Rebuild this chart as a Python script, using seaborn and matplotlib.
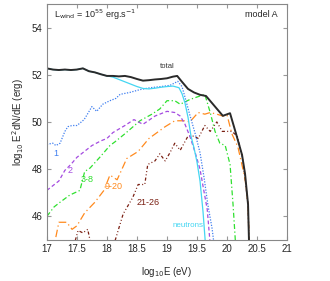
import numpy as np
import pandas as pd
import seaborn as sns
import matplotlib.pyplot as plt

# log10 E (eV) and log10 E^2 dN/dE (erg)
total_x = [17.0, 17.1, 17.2, 17.3, 17.4, 17.5, 17.6, 17.7, 17.8, 17.9, 18.0, 18.1, 18.2, 18.3, 18.4,
           18.5, 18.6, 18.7, 18.8, 18.9, 19.0, 19.1, 19.17, 19.25, 19.35, 19.45, 19.55, 19.65, 19.75,
           19.85, 19.93, 20.05, 20.15, 20.25, 20.3, 20.35, 20.37]
total_y = [52.27, 52.22, 52.2, 52.22, 52.2, 52.22, 52.27, 52.15, 52.1, 52.02, 51.95, 51.95, 51.93,
           51.95, 51.9, 51.82, 51.75, 51.77, 51.8, 51.82, 51.85, 51.92, 51.95, 51.7, 51.4, 51.25,
           51.15, 51.1, 50.8, 50.5, 50.26, 50.37, 49.5, 48.6, 47.8, 46.5, 44.5]

neutrons_x = [17.0, 17.1, 17.2, 17.3, 17.4, 17.5, 17.6, 17.7, 17.8, 17.9, 18.0, 18.1, 18.2, 18.3, 18.4,
              18.5, 18.6, 18.7, 18.8, 18.9, 19.0, 19.1, 19.2, 19.25, 19.3, 19.35, 19.4, 19.45, 19.5,
              19.55, 19.6, 19.65]
neutrons_y = [52.27, 52.22, 52.2, 52.22, 52.2, 52.22, 52.27, 52.15, 52.1, 52.02, 51.95, 51.9, 51.8,
              51.7, 51.6, 51.5, 51.42, 51.4, 51.43, 51.47, 51.5, 51.52, 51.45, 51.2, 50.8, 50.2, 49.4,
              48.9, 48.3, 47.5, 46.2, 44.5]

z1_x = [17.0, 17.1, 17.15, 17.22, 17.3, 17.35, 17.42, 17.5, 17.55, 17.62, 17.68, 17.75, 17.83, 17.93,
        18.05, 18.15, 18.22, 18.38, 18.55, 18.72, 18.9, 19.05, 19.18, 19.25, 19.3, 19.38, 19.47, 19.55,
        19.62, 19.68, 19.75, 19.8]
z1_y = [49.05, 49.1, 49.0, 49.1, 49.6, 49.8, 49.85, 49.85, 49.95, 50.1, 50.35, 50.65, 50.45, 50.75,
        50.9, 51.0, 51.17, 51.25, 51.37, 51.45, 51.5, 51.55, 51.72, 51.5, 51.05, 50.3, 49.5, 48.7,
        47.6, 46.5, 45.5, 44.5]

z2_x = [17.0, 17.1, 17.2, 17.3, 17.4, 17.5, 17.6, 17.75, 17.9, 18.0, 18.1, 18.2, 18.3, 18.45, 18.6,
        18.8, 19.0, 19.13, 19.22, 19.3, 19.38, 19.47, 19.55, 19.62, 19.67, 19.73]
z2_y = [47.1, 47.3, 47.5, 47.95, 48.2, 48.5, 48.7, 49.0, 49.2, 49.3, 49.55, 49.7, 49.85, 50.1, 49.9,
        50.25, 50.45, 50.4, 50.25, 49.9, 49.4, 48.7, 48.0, 47.0, 46.3, 44.5]

z3_x = [17.0, 17.12, 17.22, 17.38, 17.55, 17.63, 17.72, 17.88, 18.05, 18.13, 18.3, 18.55, 18.75, 18.88,
        19.0, 19.13, 19.22, 19.38, 19.55, 19.63, 19.72, 19.8, 19.88, 19.97, 20.05, 20.1, 20.15]
z3_y = [46.0, 46.4, 46.6, 46.9, 47.1, 47.9, 48.05, 48.5, 49.0, 49.15, 49.5, 50.05, 50.33, 50.55,
        50.9, 50.9, 50.75, 50.95, 51.1, 51.17, 50.4, 49.6, 49.1, 49.0, 48.2, 46.5, 44.5]

z9_x = [17.1, 17.2, 17.33, 17.42, 17.5, 17.63, 17.8, 17.95, 18.05, 18.17, 18.33, 18.52, 18.7, 18.97,
        19.13, 19.3, 19.38, 19.52, 19.63, 19.72, 19.83, 19.93, 20.0, 20.08, 20.18, 20.3, 20.35, 20.37]
z9_y = [44.5, 45.75, 45.75, 45.45, 45.6, 46.15, 46.6, 47.1, 47.75, 47.55, 48.45, 48.75, 49.3, 49.8,
        50.05, 50.05, 50.0, 50.4, 50.33, 50.4, 50.33, 50.25, 50.3, 49.5, 48.95, 47.6, 46.5, 44.5]

z21a_x = [17.42, 17.52, 17.6, 17.68, 17.76]
z21a_y = [44.5, 45.4, 45.3, 45.45, 44.5]
z21_x = [18.08, 18.27, 18.43, 18.52, 18.63, 18.68, 18.8, 18.88, 18.97, 19.05, 19.13, 19.22, 19.35,
         19.45, 19.52, 19.63, 19.72, 19.83, 19.92, 20.08, 20.17, 20.25, 20.3, 20.35, 20.37]
z21_y = [44.5, 46.1, 46.8, 47.35, 47.35, 48.2, 48.35, 48.65, 48.35, 48.7, 49.1, 48.8, 49.4, 49.4,
         49.3, 49.85, 49.6, 50.0, 49.6, 49.6, 49.4, 48.6, 47.6, 46.5, 44.5]

sns.set_style('ticks')
plt.rcParams['font.family'] = ['Liberation Sans', 'DejaVu Sans']

fig = plt.figure(figsize=(3.3, 2.81), dpi=100)
ax = fig.add_axes([0.142, 0.146, 0.728, 0.84])

c_tot, c_neu, c_1, c_2, c_3, c_9, c_21 = '#2a2a2a', '#44d6f2', '#3f7ff0', '#a44be0', '#2fe02f', '#ff8a1e', '#7a1f12'

ls_21 = (0, (2.5, 1.8, 0.8, 1.8, 0.8, 1.8))
sns.lineplot(x=z21a_x, y=z21a_y, ax=ax, color=c_21, lw=0.9, sort=False, linestyle=ls_21)
sns.lineplot(x=z21_x, y=z21_y, ax=ax, color=c_21, lw=0.9, sort=False, linestyle=ls_21)
sns.lineplot(x=z9_x, y=z9_y, ax=ax, color=c_9, lw=0.9, sort=False, linestyle=(0, (6, 2.5, 1, 2.5)))
sns.lineplot(x=z3_x, y=z3_y, ax=ax, color=c_3, lw=0.9, sort=False, linestyle=(0, (4, 2, 1, 2)))
sns.lineplot(x=z2_x, y=z2_y, ax=ax, color=c_2, lw=0.9, sort=False, linestyle=(0, (3, 2)))
sns.lineplot(x=z1_x, y=z1_y, ax=ax, color=c_1, lw=0.9, sort=False, linestyle=(0, (1, 1.2)))
sns.lineplot(x=neutrons_x, y=neutrons_y, ax=ax, color=c_neu, lw=0.9, sort=False)
sns.lineplot(x=total_x, y=total_y, ax=ax, color=c_tot, lw=1.4, sort=False)

ax.set_xlim(17, 21)
ax.set_ylim(45, 55)
ax.set_xticks(np.arange(17, 21.01, 0.5))
ax.set_xticklabels(['17', '17.5', '18', '18.5', '19', '19.5', '20', '20.5', '21'])
ax.set_yticks([46, 48, 50, 52, 54])
ax.tick_params(direction='in', top=True, right=True, labelsize=7, length=3,
               color='#999999', width=0.8, pad=3)
for s in ax.spines.values():
    s.set_color('#888888')
    s.set_linewidth(0.8)

ax.set_xlabel('log$_{10}$E (eV)', fontsize=7, labelpad=8)
ax.set_ylabel('log$_{10}$ E$^2$dN/dE (erg)', fontsize=7, labelpad=4)

ax.text(17.12, 54.55, r'L$_{\rm wind}$ = 10$^{55}$ erg.s$^{-1}$', fontsize=6.5, va='center')
ax.text(20.85, 54.55, 'model A', fontsize=6.5, va='center', ha='right')
ax.text(19.0, 52.3, 'total', fontsize=5.5, color='#333333', ha='center')
ax.text(17.1, 48.55, '1', fontsize=6.5, color=c_1)
ax.text(17.35, 47.85, '2', fontsize=6.5, color=c_2)
ax.text(17.57, 47.45, '3-8', fontsize=6.5, color=c_3)
ax.text(17.97, 47.15, '9-20', fontsize=6.5, color=c_9)
ax.text(18.5, 46.5, '21-26', fontsize=6.5, color=c_21)
ax.text(19.1, 45.55, 'neutrons', fontsize=5.8, color=c_neu)

fig.savefig('out.png', dpi=100)
